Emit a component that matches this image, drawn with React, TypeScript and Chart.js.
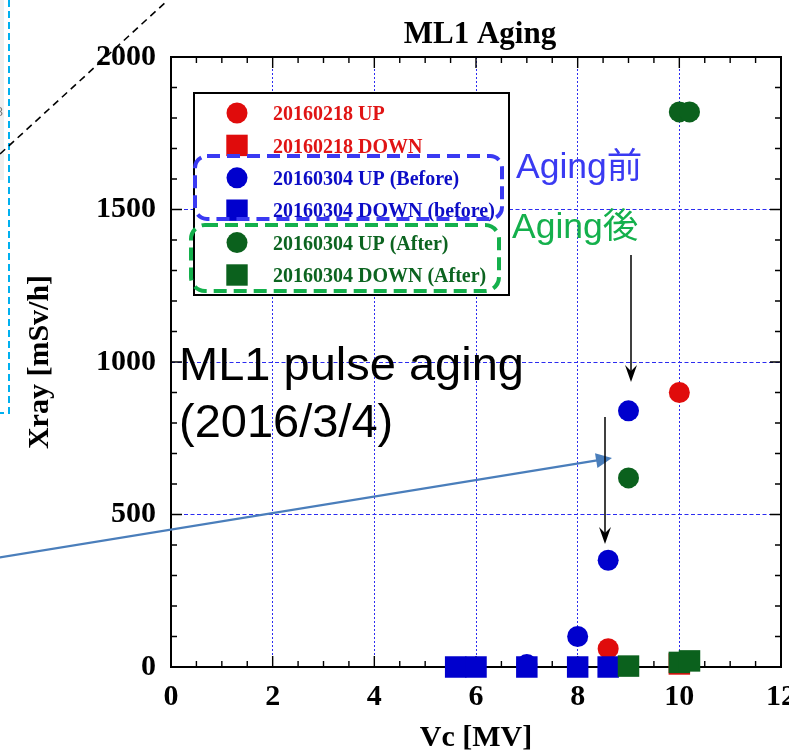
import React, { useEffect, useRef } from 'react';
import { Chart, registerables } from 'chart.js';

Chart.register(...registerables);

// Measured X-ray dose vs. cavity voltage, one array per sweep: [Vc (MV), Xray (mSv/h)]
const SERIES_NAMES = [
  '20160218 UP',
  '20160218 DOWN',
  '20160304 UP (Before)',
  '20160304 DOWN (before)',
  '20160304 UP (After)',
  '20160304 DOWN (After)',
];
const up0218: [number, number][] = [[8.6, 60], [10, 900]];
const down0218: [number, number][] = [[10, 10]];
const upBefore: [number, number][] = [[7, 8], [8, 100], [8.6, 350], [9, 840]];
const downBefore: [number, number][] = [[5.6, 0], [6, 0], [7, 0], [8, 0], [8.6, 0]];
const upAfter: [number, number][] = [[9, 620], [10, 1820], [10.2, 1820]];
const downAfter: [number, number][] = [[9, 3], [10, 15], [10.2, 20]];

const SERIES_DATA = [up0218, down0218, upBefore, downBefore, upAfter, downAfter];

// Axis ranges and tick spacing
const X_MIN = 0;
const X_MAX = 12;
const X_STEP = 2;
const X_MINOR = 0.5;
const Y_MIN = 0;
const Y_MAX = 2000;
const Y_STEP = 500;
const Y_MINOR = 100;

const CHART_TITLE = 'ML1 Aging';
const X_TITLE = 'Vc [MV]';
const Y_TITLE = 'Xray [mSv/h]';
const NOTE_BEFORE = 'Aging前';
const NOTE_AFTER = 'Aging後';
const NOTE_MAIN = ['ML1 pulse aging', '(2016/3/4)'];

// Styling
const SERIF = '"Liberation Serif", "Times New Roman", serif';
const SANS = '"Liberation Sans", Arial, "Noto Sans CJK JP", sans-serif';
const RED = '#e00c0c';
const BLUE = '#0000cd';
const GREEN = '#0b611d';
const SERIES_COLORS = [RED, RED, BLUE, BLUE, GREEN, GREEN];
const SERIES_TEXT_COLORS = ['#e01414', '#e01414', '#0c0cc6', '#0c0cc6', '#0c6420', '#0c6420'];
const SERIES_SHAPES = ['circle', 'rect', 'circle', 'rect', 'circle', 'rect'];
const GRID_COLOR = '#2c2cf0';
const BOX_BLUE = '#3a3af2';
const BOX_GREEN = '#14b04c';
const ARROW_STEEL = '#4a7ebb';
const CYAN = '#00b0f0';

// Visible page size; the canvas runs a little past the right edge so the
// last x tick label is cut by the frame rather than squeezing the plot.
const W = 789;
const H = 756;
const CANVAS_W = 830;
const PLOT_RIGHT = 781;

const isMultiple = (v: number, step: number) => Math.abs(v / step - Math.round(v / step)) < 1e-6;

// Plot frame with inward major/minor tick marks on all four sides
const frameTicks = {
  id: 'frameTicks',
  beforeDatasetsDraw(chart: any) {
    const { ctx, chartArea: a, scales } = chart;
    const xs = scales.x;
    const ys = scales.y;
    ctx.save();
    ctx.strokeStyle = '#000';
    ctx.lineWidth = 1.4;
    ctx.beginPath();
    for (let v = X_MIN; v <= X_MAX + 1e-9; v += X_MINOR) {
      const px = xs.getPixelForValue(v);
      const len = isMultiple(v, X_STEP) ? 11 : 6;
      ctx.moveTo(px, a.bottom);
      ctx.lineTo(px, a.bottom - len);
      ctx.moveTo(px, a.top);
      ctx.lineTo(px, a.top + len);
    }
    for (let v = Y_MIN; v <= Y_MAX + 1e-9; v += Y_MINOR) {
      const py = ys.getPixelForValue(v);
      const len = isMultiple(v, Y_STEP) ? 11 : 6;
      ctx.moveTo(a.left, py);
      ctx.lineTo(a.left + len, py);
      ctx.moveTo(a.right, py);
      ctx.lineTo(a.right - len, py);
    }
    ctx.stroke();
    ctx.lineWidth = 2;
    ctx.strokeRect(a.left, a.top, a.right - a.left, a.bottom - a.top);
    ctx.restore();
  },
};

function roundRectPath(ctx: CanvasRenderingContext2D, x: number, y: number, w: number, h: number, r: number) {
  ctx.beginPath();
  ctx.moveTo(x + r, y);
  ctx.lineTo(x + w - r, y);
  ctx.arcTo(x + w, y, x + w, y + r, r);
  ctx.lineTo(x + w, y + h - r);
  ctx.arcTo(x + w, y + h, x + w - r, y + h, r);
  ctx.lineTo(x + r, y + h);
  ctx.arcTo(x, y + h, x, y + h - r, r);
  ctx.lineTo(x, y + r);
  ctx.arcTo(x, y, x + r, y, r);
  ctx.closePath();
}

function stealthArrow(ctx: CanvasRenderingContext2D, x1: number, y1: number, x2: number, y2: number, color: string) {
  const ang = Math.atan2(y2 - y1, x2 - x1);
  ctx.save();
  ctx.strokeStyle = color;
  ctx.fillStyle = color;
  ctx.lineWidth = 1.5;
  ctx.beginPath();
  ctx.moveTo(x1, y1);
  ctx.lineTo(x2 - 8 * Math.cos(ang), y2 - 8 * Math.sin(ang));
  ctx.stroke();
  ctx.translate(x2, y2);
  ctx.rotate(ang);
  ctx.beginPath();
  ctx.moveTo(0, 0);
  ctx.lineTo(-17, -6);
  ctx.lineTo(-11, 0);
  ctx.lineTo(-17, 6);
  ctx.closePath();
  ctx.fill();
  ctx.restore();
}

function triangleArrow(ctx: CanvasRenderingContext2D, x1: number, y1: number, x2: number, y2: number, color: string) {
  const ang = Math.atan2(y2 - y1, x2 - x1);
  ctx.save();
  ctx.strokeStyle = color;
  ctx.fillStyle = color;
  ctx.lineWidth = 2.2;
  ctx.beginPath();
  ctx.moveTo(x1, y1);
  ctx.lineTo(x2 - 12 * Math.cos(ang), y2 - 12 * Math.sin(ang));
  ctx.stroke();
  ctx.translate(x2, y2);
  ctx.rotate(ang);
  ctx.beginPath();
  ctx.moveTo(0, 0);
  ctx.lineTo(-16, -7.5);
  ctx.lineTo(-16, 7.5);
  ctx.closePath();
  ctx.fill();
  ctx.restore();
}

// Title, legend and slide annotations drawn over the plot
const overlay = {
  id: 'overlay',
  afterDraw(chart: any) {
    const ctx: CanvasRenderingContext2D = chart.ctx;
    const a = chart.chartArea;
    ctx.save();

    // chart title
    ctx.fillStyle = '#000';
    ctx.font = `bold 31px ${SERIF}`;
    ctx.textAlign = 'center';
    ctx.textBaseline = 'alphabetic';
    ctx.fillText(CHART_TITLE, (a.left + a.right) / 2 + 4, 43);

    // legend box
    const lx = 194;
    const ly = 93;
    const lw = 315;
    const lh = 202;
    ctx.fillStyle = '#fff';
    ctx.fillRect(lx, ly, lw, lh);
    ctx.strokeStyle = '#000';
    ctx.lineWidth = 2;
    ctx.strokeRect(lx, ly, lw, lh);
    const datasets = chart.data.datasets;
    ctx.textAlign = 'left';
    ctx.textBaseline = 'middle';
    ctx.font = `bold 20px ${SERIF}`;
    datasets.forEach((ds: any, i: number) => {
      const ry = 113 + i * 32.4;
      ctx.fillStyle = ds.backgroundColor;
      if (ds.pointStyle === 'rect') {
        ctx.fillRect(237 - 10.7, ry - 10.7, 21.4, 21.4);
      } else {
        ctx.beginPath();
        ctx.arc(237, ry, 10.5, 0, Math.PI * 2);
        ctx.fill();
      }
      ctx.fillStyle = SERIES_TEXT_COLORS[i];
      ctx.fillText(ds.label, 273, ry + 2);
    });

    // dashed groupings
    ctx.lineWidth = 4;
    ctx.setLineDash([13, 7]);
    ctx.strokeStyle = BOX_BLUE;
    roundRectPath(ctx, 195, 156, 307, 63, 12);
    ctx.stroke();
    ctx.strokeStyle = BOX_GREEN;
    roundRectPath(ctx, 191, 225, 308, 66, 14);
    ctx.stroke();
    ctx.setLineDash([]);

    // group notes
    ctx.textBaseline = 'alphabetic';
    ctx.font = `35.5px ${SANS}`;
    ctx.fillStyle = BOX_BLUE;
    ctx.fillText(NOTE_BEFORE, 516, 178);
    ctx.fillStyle = BOX_GREEN;
    ctx.fillText(NOTE_AFTER, 512, 238);

    // main note
    ctx.fillStyle = '#000';
    ctx.font = `47px ${SANS}`;
    ctx.fillText(NOTE_MAIN[0], 179, 380);
    ctx.fillText(NOTE_MAIN[1], 179, 437);

    // arrows
    triangleArrow(ctx, -2, 557.8, 612, 458, ARROW_STEEL);
    stealthArrow(ctx, 631, 255, 631, 382, '#000');
    stealthArrow(ctx, 605, 417, 605, 544, '#000');

    // neighbouring slide elements on the left
    ctx.fillStyle = '#efefef';
    ctx.fillRect(0, 0, 4, 180);
    ctx.fillStyle = '#777';
    ctx.font = `13px ${SANS}`;
    ctx.textAlign = 'right';
    ctx.fillText('8', 3, 116);
    ctx.strokeStyle = CYAN;
    ctx.lineWidth = 2;
    ctx.setLineDash([7, 4]);
    ctx.beginPath();
    ctx.moveTo(9, 0);
    ctx.lineTo(9, 413);
    ctx.lineTo(0, 413);
    ctx.stroke();
    ctx.strokeStyle = '#000';
    ctx.lineWidth = 1.6;
    ctx.setLineDash([7, 5]);
    ctx.beginPath();
    ctx.moveTo(0, 154);
    ctx.lineTo(168, 0);
    ctx.stroke();
    ctx.restore();
  },
};

export default function App() {
  const ref = useRef<HTMLCanvasElement>(null);

  useEffect(() => {
    if (!ref.current) return;
    const tickFont = { family: SERIF, size: 30, weight: 'bold' as const, lineHeight: 1.2 };
    const chart = new Chart(ref.current, {
      type: 'scatter',
      data: {
        datasets: SERIES_DATA.map((pts, i) => ({
          label: SERIES_NAMES[i],
          data: pts.map(([x, y]) => ({ x, y })),
          pointStyle: SERIES_SHAPES[i] as any,
          pointRadius: SERIES_SHAPES[i] === 'rect' ? 15.2 : 10.5,
          pointHoverRadius: SERIES_SHAPES[i] === 'rect' ? 15.2 : 10.5,
          backgroundColor: SERIES_COLORS[i],
          borderColor: SERIES_COLORS[i],
          pointBorderWidth: 0,
          showLine: false,
          clip: false,
          order: SERIES_DATA.length - 1 - i,
        })),
      },
      options: {
        responsive: false,
        animation: false,
        devicePixelRatio: 1,
        layout: { padding: { top: 57, left: 0, right: CANVAS_W - PLOT_RIGHT, bottom: 0 } },
        plugins: {
          legend: { display: false },
          title: { display: false },
          tooltip: { enabled: false },
        },
        scales: {
          x: {
            type: 'linear',
            min: X_MIN,
            max: X_MAX,
            ticks: {
              stepSize: X_STEP,
              autoSkip: false,
              maxRotation: 0,
              color: '#000',
              font: tickFont,
              padding: 12,
              callback: (v: any) => String(v),
            },
            grid: {
              drawTicks: false,
              lineWidth: 1,
              color: (c: any) =>
                c.tick && c.tick.value > X_MIN && c.tick.value < X_MAX ? GRID_COLOR : 'rgba(0,0,0,0)',
            },
            border: { display: false, dash: [2, 2] },
            title: {
              display: true,
              text: X_TITLE,
              color: '#000',
              font: tickFont,
              padding: { top: 0, bottom: 0 },
            },
            afterFit: (s: any) => {
              s.height = 89;
            },
          },
          y: {
            type: 'linear',
            min: Y_MIN,
            max: Y_MAX,
            ticks: {
              stepSize: Y_STEP,
              color: '#000',
              font: tickFont,
              padding: 15,
              callback: (v: any) => String(v),
            },
            grid: {
              drawTicks: false,
              lineWidth: 1,
              color: (c: any) =>
                c.tick && c.tick.value > Y_MIN && c.tick.value < Y_MAX ? GRID_COLOR : 'rgba(0,0,0,0)',
            },
            border: { display: false, dash: [4, 2.5] },
            title: {
              display: true,
              text: Y_TITLE,
              color: '#000',
              font: tickFont,
              padding: { top: 22, bottom: 0 },
            },
            afterFit: (s: any) => {
              s.width = 171;
            },
          },
        },
      } as any,
      plugins: [frameTicks, overlay],
    });
    return () => chart.destroy();
  }, []);

  return (
    <div style={{ position: 'fixed', left: 0, top: 0, width: W, height: H, background: '#fff', overflow: 'hidden' }}>
      <canvas ref={ref} width={CANVAS_W} height={H} style={{ display: 'block', width: CANVAS_W, height: H }} />
    </div>
  );
}
